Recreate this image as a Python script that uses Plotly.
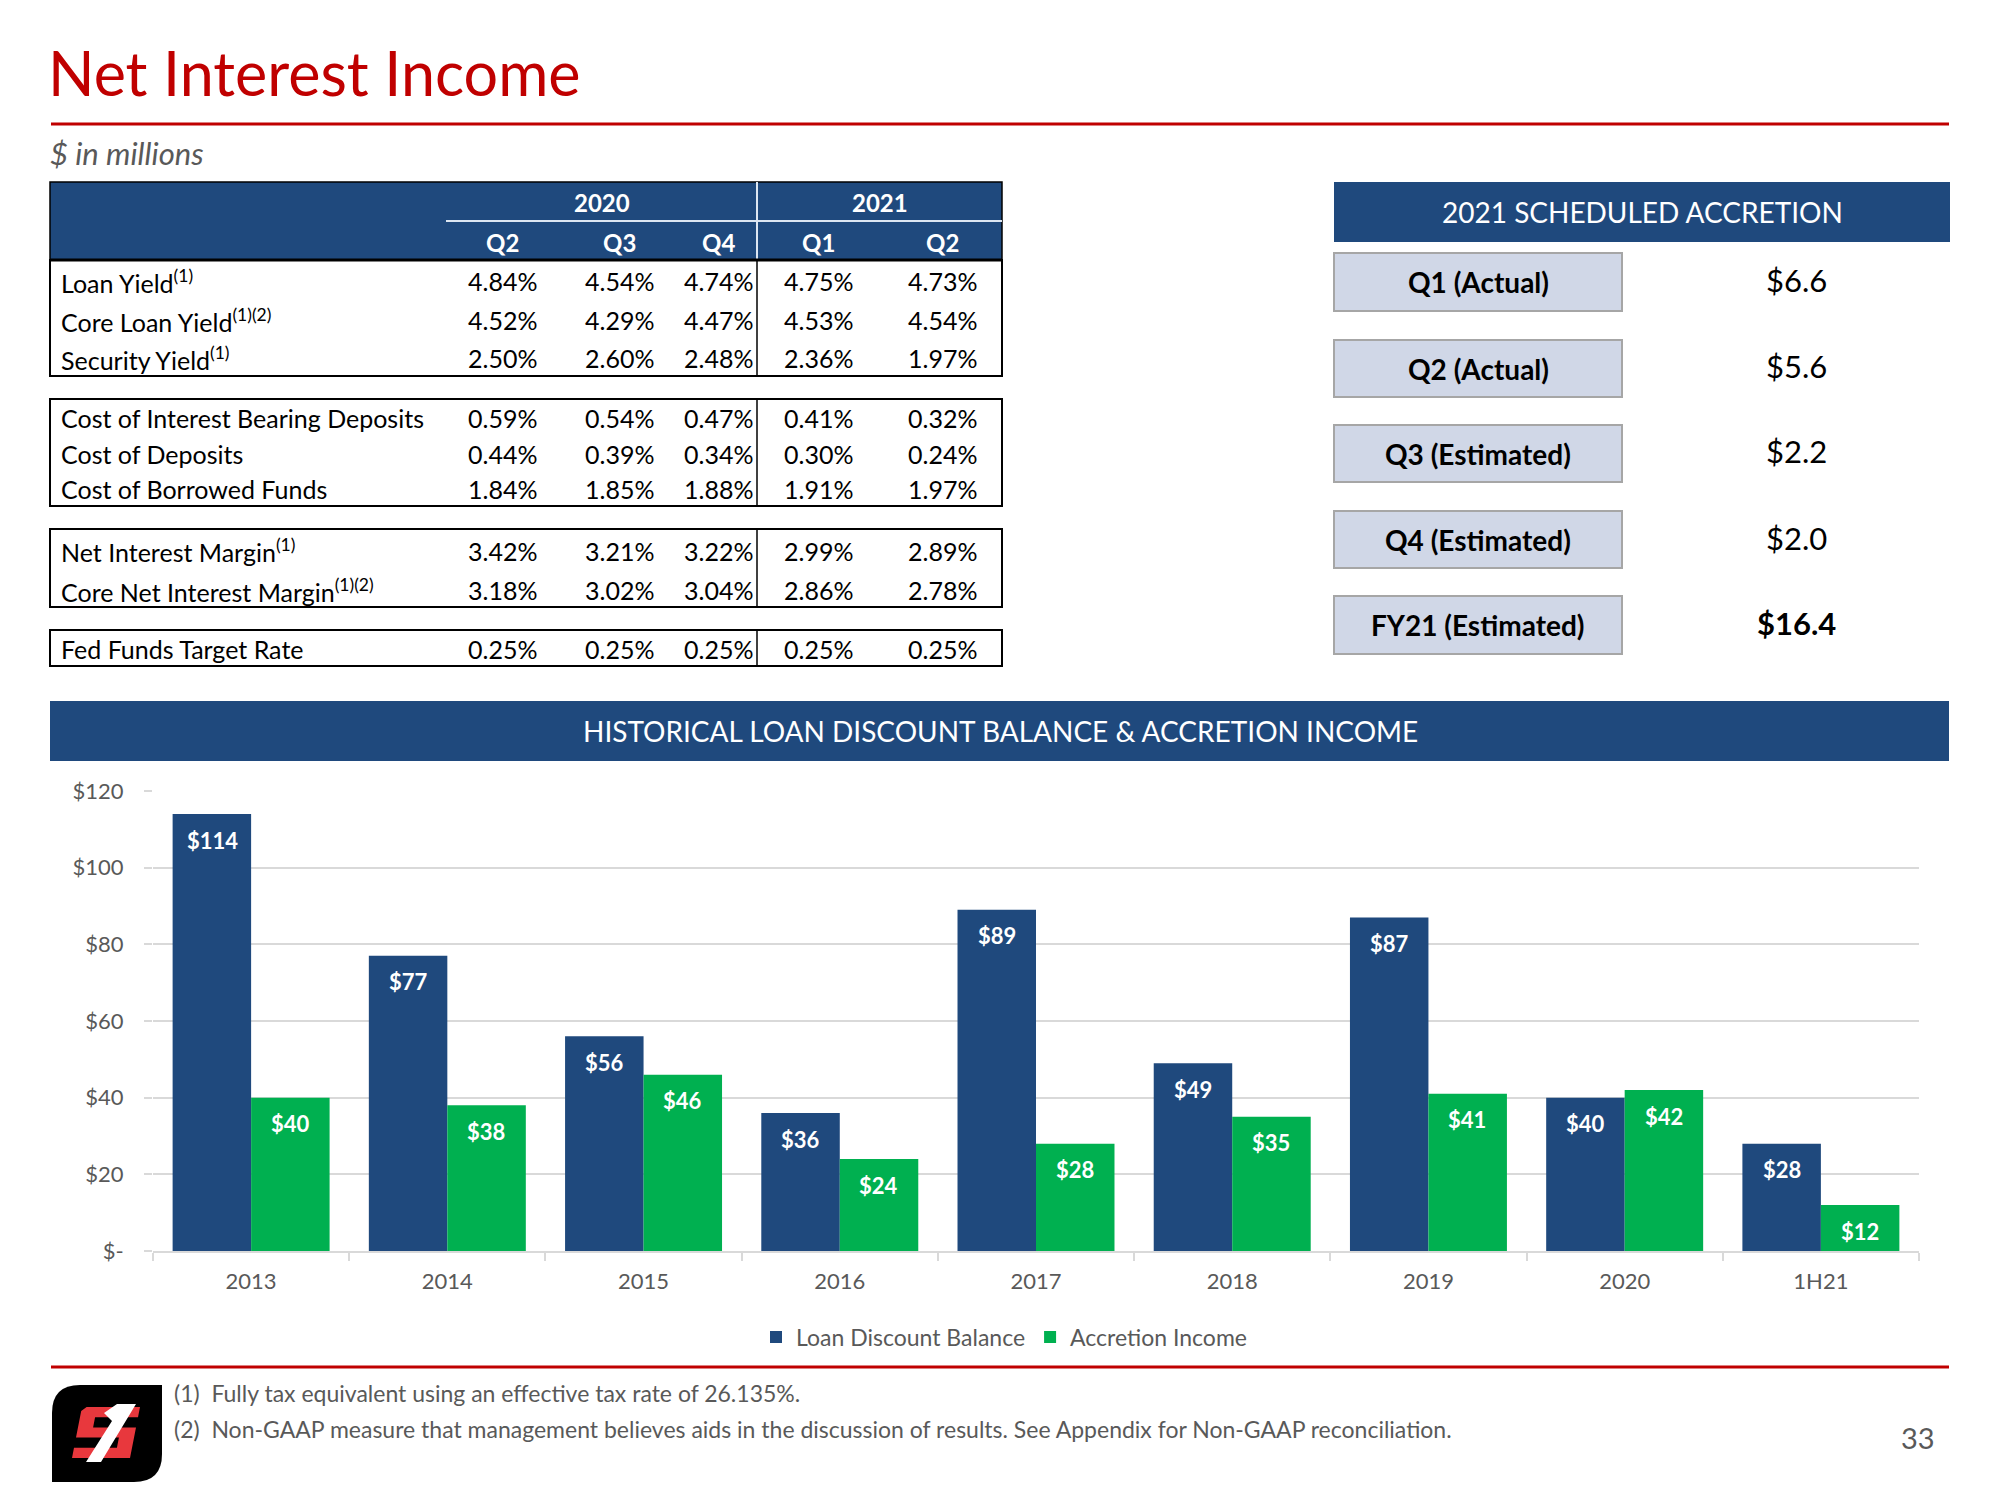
import plotly.graph_objects as go

W, H = 2000, 1500
FONT = "Lato"
RED = "#C00000"
BLUE = "#1F497D"
GREEN = "#00B050"
GRAY = "#595959"

# ---------------- data ----------------
table_years = ["2020", "2021"]
table_quarters = ["Q2", "Q3", "Q4", "Q1", "Q2"]

yield_labels = ["Loan Yield<sup>(1)</sup>", "Core Loan Yield<sup>(1)(2)</sup>", "Security Yield<sup>(1)</sup>"]
loan_yield = [4.84, 4.54, 4.74, 4.75, 4.73]
core_loan_yield = [4.52, 4.29, 4.47, 4.53, 4.54]
security_yield = [2.50, 2.60, 2.48, 2.36, 1.97]

cost_labels = ["Cost of Interest Bearing Deposits", "Cost of Deposits", "Cost of Borrowed Funds"]
cost_ib_deposits = [0.59, 0.54, 0.47, 0.41, 0.32]
cost_deposits = [0.44, 0.39, 0.34, 0.30, 0.24]
cost_borrowed = [1.84, 1.85, 1.88, 1.91, 1.97]

margin_labels = ["Net Interest Margin<sup>(1)</sup>", "Core Net Interest Margin<sup>(1)(2)</sup>"]
net_interest_margin = [3.42, 3.21, 3.22, 2.99, 2.89]
core_nim = [3.18, 3.02, 3.04, 2.86, 2.78]

fed_labels = ["Fed Funds Target Rate"]
fed_funds = [0.25, 0.25, 0.25, 0.25, 0.25]

accretion_periods = ["Q1 (Actual)", "Q2 (Actual)", "Q3 (Estimated)", "Q4 (Estimated)", "FY21 (Estimated)"]
scheduled_accretion = [6.6, 5.6, 2.2, 2.0, 16.4]

hist_years = ["2013", "2014", "2015", "2016", "2017", "2018", "2019", "2020", "1H21"]
loan_discount_balance = [114, 77, 56, 36, 89, 49, 87, 40, 28]
accretion_income = [40, 38, 46, 24, 28, 35, 41, 42, 12]

y_ticks = [0, 20, 40, 60, 80, 100, 120]
y_tick_labels = ["$-" if v == 0 else f"${v}" for v in y_ticks]

footnotes = [
    "(1)  Fully tax equivalent using an effective tax rate of 26.135%.",
    "(2)  Non-GAAP measure that management believes aids in the discussion of results. See Appendix for Non-GAAP reconciliation.",
]

# ---------------- helpers ----------------
def px(x):
    return x / W


def py(y):
    return 1 - y / H


shapes = []
annots = []


def rect(x0, y0, x1, y1, fill=None, line=None, lw=0, layer="above"):
    shapes.append(dict(type="rect", xref="paper", yref="paper",
                       x0=px(x0), x1=px(x1), y0=py(y1), y1=py(y0),
                       fillcolor=fill if fill else "rgba(0,0,0,0)",
                       line=dict(color=line if line else "rgba(0,0,0,0)", width=lw),
                       layer=layer))


def hline(x0, x1, y, color, lw):
    shapes.append(dict(type="line", xref="paper", yref="paper",
                       x0=px(x0), x1=px(x1), y0=py(y), y1=py(y),
                       line=dict(color=color, width=lw)))


def vline(x, y0, y1, color, lw):
    shapes.append(dict(type="line", xref="paper", yref="paper",
                       x0=px(x), x1=px(x), y0=py(y0), y1=py(y1),
                       line=dict(color=color, width=lw)))


def poly(points, fill):
    d = "M " + " L ".join(f"{px(x)},{py(y)}" for x, y in points) + " Z"
    shapes.append(dict(type="path", xref="paper", yref="paper", path=d,
                       fillcolor=fill, line=dict(width=0)))


def txt(x, y, s, size, color="black", anchor="left", weight="normal", style="normal"):
    annots.append(dict(x=px(x), y=py(y), xref="paper", yref="paper", text=s,
                       showarrow=False, xanchor=anchor, yanchor="middle",
                       font=dict(family=FONT, size=size, color=color, weight=weight, style=style)))


# ---------------- figure / chart ----------------
fig = go.Figure()
fig.add_trace(go.Bar(name="Loan Discount Balance", x=hist_years, y=loan_discount_balance,
                     marker=dict(color=BLUE, line=dict(width=0))))
fig.add_trace(go.Bar(name="Accretion Income", x=hist_years, y=accretion_income,
                     marker=dict(color=GREEN, line=dict(width=0))))

bar_labels = []
for series, shift in ((loan_discount_balance, -39), (accretion_income, 39)):
    for i, v in enumerate(series):
        bar_labels.append(dict(x=i, y=v, xref="x", yref="y", text=f"<b>${v}</b>", showarrow=False,
                               xshift=shift, yshift=-26, yanchor="middle",
                               font=dict(family=FONT, size=22, color="white")))

# ---------------- title area ----------------
txt(46, 73, "Net Interest Income", 61, RED)
hline(51, 1949, 124, RED, 3)
txt(48, 153, "$ in millions", 31, GRAY, style="italic")

# ---------------- table ----------------
TL, TR, TDIV = 50, 1002, 757
col_x = [502, 619, 718, 818, 942]
rect(TL, 182, TR, 260, fill=BLUE, line="black", lw=1.5)
hline(446, TR, 221, "#DCE6F2", 2)
vline(TDIV, 182, 260, "#DCE6F2", 2)
txt((446 + TDIV) / 2, 203, table_years[0], 24, "white", "center", "bold")
txt((TDIV + TR) / 2, 203, table_years[1], 24, "white", "center", "bold")
for cx, q in zip(col_x, table_quarters):
    txt(cx, 242, q, 24, "white", "center", "bold")

groups = [
    (260, 376, yield_labels, [loan_yield, core_loan_yield, security_yield], [281, 320, 358]),
    (399, 506, cost_labels, [cost_ib_deposits, cost_deposits, cost_borrowed], [418, 454, 489]),
    (529, 607, margin_labels, [net_interest_margin, core_nim], [551, 590]),
    (630, 666, fed_labels, [fed_funds], [649]),
]
for (g0, g1, labels, rows, ys) in groups:
    rect(TL, g0, TR, g1, line="black", lw=2)
    vline(TDIV, g0, g1, "black", 1.5)
    for lab, vals, yy in zip(labels, rows, ys):
        txt(59, yy, lab, 25, "black")
        for cx, v in zip(col_x, vals):
            txt(cx, yy, f"{v:.2f}%", 25, "black", "center")
hline(TL, TR, 260, "black", 3)

# ---------------- scheduled accretion panel ----------------
rect(1334, 182, 1950, 242, fill=BLUE)
txt(1642, 212, "2021 SCHEDULED ACCRETION", 28, "white", "center")
box_y = [(253, 311), (340, 397), (425, 482), (511, 568), (596, 654)]
for i, ((b0, b1), lab, val) in enumerate(zip(box_y, accretion_periods, scheduled_accretion)):
    rect(1334, b0, 1622, b1, fill="#D0D7E7", line="#A6A6A6", lw=2)
    txt(1478, (b0 + b1) / 2, lab, 28, "black", "center", "bold")
    bold = "bold" if i == len(accretion_periods) - 1 else "normal"
    txt(1796, (b0 + b1) / 2 - 2, f"${val:.1f}", 31, "black", "center", bold)

# ---------------- chart header ----------------
rect(50, 701, 1949, 761, fill=BLUE)
txt(1000, 731, "HISTORICAL LOAN DISCOUNT BALANCE &amp; ACCRETION INCOME", 28, "white", "center")

# ---------------- footer ----------------
hline(51, 1949, 1367, RED, 3)
for yy, s in zip([1393, 1429], footnotes):
    txt(172, yy, s, 23, GRAY)
txt(1918, 1437, "33", 29, GRAY, "center")

# logo: black leaf-shaped tile, red blocky "S", white "1"
shapes.append(dict(type="path", xref="paper", yref="paper",
                   path=(f"M {px(52)},{py(1482)} L {px(52)},{py(1413)} "
                         f"Q {px(52)},{py(1385)} {px(80)},{py(1385)} L {px(162)},{py(1385)} "
                         f"L {px(162)},{py(1454)} Q {px(162)},{py(1482)} {px(134)},{py(1482)} Z"),
                   fillcolor="black", line=dict(width=0)))
s_unit = [(0.08, 0), (1, 0), (1, 0.2), (0.26, 0.2), (0.26, 0.4), (1, 0.4), (1, 1), (0, 1),
          (0, 0.8), (0.74, 0.8), (0.74, 0.6), (0, 0.6), (0, 0.08)]
sx0, sw, sy0, sh, slant = 72, 58, 1407, 51, 10
poly([(sx0 + ux * sw + (1 - uy) * slant, sy0 + uy * sh) for ux, uy in s_unit], "#E8383D")
poly([(86, 1462), (101, 1462), (136, 1404), (117, 1404), (104, 1413), (112, 1421)], "white")

fig.update_layout(
    width=W, height=H,
    margin=dict(l=0, r=0, t=0, b=0, pad=0, autoexpand=False),
    paper_bgcolor="white", plot_bgcolor="white",
    font=dict(family=FONT, size=22, color=GRAY),
    barmode="group", bargap=0.2, bargroupgap=0,
    shapes=shapes,
    annotations=bar_labels + annots,
    showlegend=True,
    legend=dict(orientation="h", x=px(1004), y=py(1337), xanchor="center", yanchor="middle",
                font=dict(family=FONT, size=23, color=GRAY), itemwidth=30,
                traceorder="normal"),
    xaxis=dict(domain=[px(153), px(1919)], type="category", range=[-0.5, len(hist_years) - 0.5],
               showline=True, linecolor="#D9D9D9", linewidth=2,
               ticks="outside", tickson="boundaries", ticklen=8, tickcolor="#D9D9D9", tickwidth=2,
               ticklabelstandoff=10, automargin=False,
               tickfont=dict(family=FONT, size=22, color=GRAY), showgrid=False),
    yaxis=dict(domain=[py(1251), py(791)], range=[0, 120],
               tickvals=y_ticks, ticktext=y_tick_labels,
               showgrid=True, gridcolor="#D9D9D9", gridwidth=2,
               ticks="outside", ticklen=8, tickcolor="#D9D9D9", tickwidth=2,
               ticklabelstandoff=16, automargin=False,
               zeroline=False, showline=False,
               tickfont=dict(family=FONT, size=22, color=GRAY)),
)

fig.write_html("out.html", config={"displayModeBar": False},
               post_script="document.body.style.margin='0';")
